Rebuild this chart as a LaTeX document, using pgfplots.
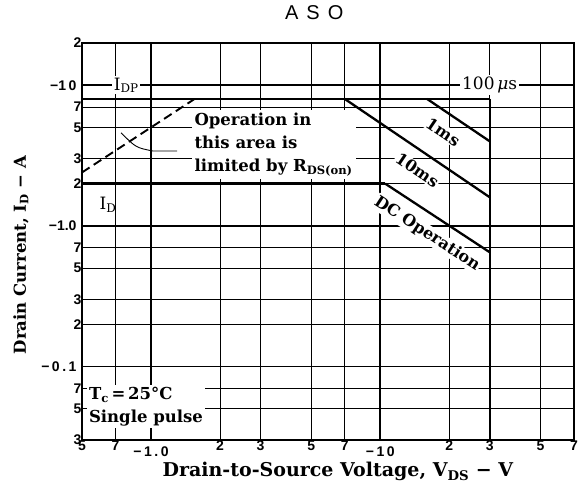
\documentclass[border=0pt]{standalone}
\usepackage{pgfplots}
\pgfplotsset{compat=1.18}
\usepackage{fontspec}
\setmainfont{DejaVu Serif}
\setsansfont{Liberation Sans}
\newcommand{\tsp}{\hspace{2.5pt}}
\begin{document}
\begin{tikzpicture}
\useasboundingbox (-82pt,-50pt) rectangle (504pt,440pt);
\begin{axis}[
  at={(0pt,0pt)}, anchor=south west,
  scale only axis, width=492pt, height=397pt,
  xmode=log, ymode=log,
  xmin=0.5, xmax=70, ymin=0.03, ymax=20,
  axis line style={line width=1.4pt},
  major tick length=0pt, minor tick length=0pt,
  xtick={0.5,0.7,2,3,5,7,20,30,50,70},
  xticklabels={5,7,2,3,5,7,2,3,5,7},
  extra x ticks={1,10},
  extra x tick labels={−\tsp1\tsp.\tsp0,−\tsp1\tsp0},
  extra x tick style={grid style={line width=1.7pt, black}, tick label style={yshift=-6pt}},
  ytick={0.03,0.05,0.07,0.2,0.3,0.5,0.7,2,3,5,7,20},
  yticklabels={3,5,7,2,3,5,7,2,3,5,7,2},
  extra y ticks={0.1,1,10},
  extra y tick labels={−\tsp0\tsp.\tsp1,−1.0,−1\tsp0},
  extra y tick style={grid style={line width=1.7pt, black}, tick label style={xshift=-5pt}},
  xmajorgrids, ymajorgrids,
  grid style={line width=0.8pt, black},
  tick label style={font=\sffamily\bfseries\fontsize{14}{15}\selectfont},
  xticklabel style={yshift=3pt},
  yticklabel style={xshift=3pt},
  clip=false,
]
% text blocks (white background interrupts grid)
\node[fill=white, inner sep=1.5pt, font=\fontsize{17}{19}\selectfont] at (axis cs:0.78,10) {I\textsubscript{DP}};
\node[fill=white, inner sep=2pt, font=\fontsize{17}{19}\selectfont] at (axis cs:30,10) {100\,{\itshape μ}s};
\node[inner sep=1pt, font=\fontsize{17}{19}\selectfont] at (axis cs:0.65,1.42) {I\textsubscript{D}};
\node[fill=white, anchor=west, align=left, inner sep=3pt, font=\bfseries\fontsize{16.5}{23}\selectfont] at (axis cs:1.50,3.77) {Operation in\\this area is\\limited by R\textsubscript{DS(on)}};
\node[fill=white, anchor=west, align=left, inner sep=2pt, font=\bfseries\fontsize{16.5}{23}\selectfont] at (axis cs:0.525,0.0516) {T\textsubscript{c}\,=\,25°C\\Single pulse};
\node[fill=white, inner sep=1pt, rotate=-34, font=\bfseries\fontsize{16}{18}\selectfont] at (axis cs:18.8,4.66) {1ms};
\node[fill=white, inner sep=1pt, rotate=-34, font=\bfseries\fontsize{16}{18}\selectfont] at (axis cs:14.5,2.5) {10ms};
\node[fill=white, inner sep=1pt, rotate=-33, font=\bfseries\fontsize{16}{18}\selectfont] at (axis cs:16.0,0.88) {DC Operation};
% leader line
\draw[line width=0.9pt] (axis cs:0.74,4.6) .. controls (axis cs:0.86,3.6) .. (axis cs:1.02,3.41) -- (axis cs:1.30,3.41);
% SOA boundaries
\addplot[line width=2.3pt, no marks] coordinates {(0.5,8) (30,8)};
\addplot[line width=2.3pt, no marks] coordinates {(30,8) (30,0.03)};
\addplot[line width=2.3pt, no marks] coordinates {(0.5,2) (10.5,2)};
\addplot[line width=2.3pt, no marks] coordinates {(10.5,2) (30,0.65)};
\addplot[line width=2.3pt, no marks] coordinates {(7,8) (30,1.6)};
\addplot[line width=2.3pt, no marks] coordinates {(16,8) (30,4)};
\addplot[line width=1.9pt, no marks, dash pattern=on 9pt off 5pt] coordinates {(0.5,2.4) (1.55,8)};
% labels
\node[font=\sffamily\fontsize{20}{20}\selectfont] at (rel axis cs:0.472,1) [yshift=30pt] {A\hspace{0.4em}S\hspace{0.4em}O};
\node[font=\bfseries\fontsize{19}{21}\selectfont] at (rel axis cs:0.52,0) [yshift=-31pt] {Drain-to-Source Voltage, V\textsubscript{DS} − V};
\node[xshift=-61pt, rotate=90, font=\bfseries\fontsize{16.5}{18}\selectfont] at (rel axis cs:0,0.466) {Drain Current, I\textsubscript{D} − A};
\end{axis}
\end{tikzpicture}
\end{document}
